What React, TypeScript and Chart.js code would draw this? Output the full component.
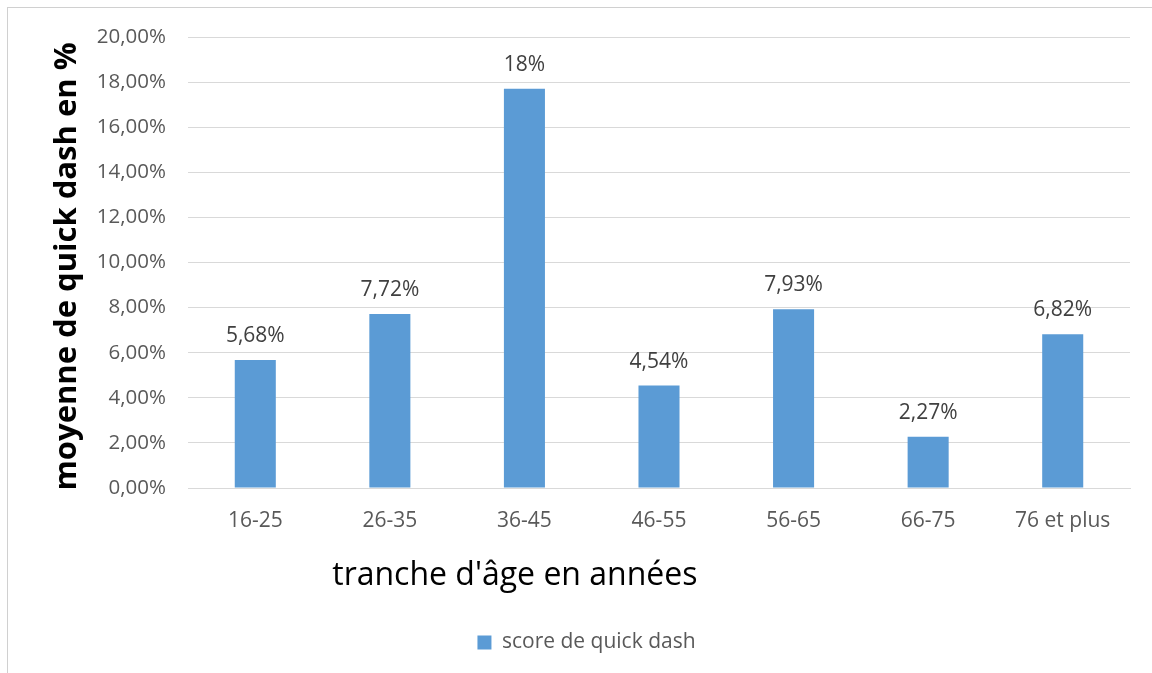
import React, { useEffect, useRef } from "react";
import { Chart, registerables } from "chart.js";

Chart.register(...registerables);

const categories = ["16-25", "26-35", "36-45", "46-55", "56-65", "66-75", "76 et plus"];
const values = [5.68, 7.72, 17.7, 4.54, 7.93, 2.27, 6.82];
const valueLabels = ["5,68%", "7,72%", "18%", "4,54%", "7,93%", "2,27%", "6,82%"];
const seriesName = "score de quick dash";
const yTitle = "moyenne de quick dash en %";
const xTitle = "tranche d'âge en années";

const FONT = "'Open Sans', 'Noto Sans', sans-serif";

const labelsPlugin = {
  id: "valueLabels",
  afterDatasetsDraw(chart: any) {
    const ctx = chart.ctx;
    const meta = chart.getDatasetMeta(0);
    ctx.save();
    ctx.font = `21px ${FONT}`;
    ctx.fillStyle = "#404040";
    ctx.textAlign = "center";
    ctx.textBaseline = "middle";
    meta.data.forEach((bar: any, i: number) => {
      ctx.fillText(valueLabels[i], bar.x, bar.y - 24);
    });
    ctx.restore();
  },
};

const titlesPlugin = {
  id: "axisTitles",
  afterDraw(chart: any) {
    const ctx = chart.ctx;
    const area = chart.chartArea;
    ctx.save();
    ctx.fillStyle = "#000000";
    ctx.textAlign = "center";
    ctx.textBaseline = "middle";
    ctx.font = `bold 31px ${FONT}`;
    ctx.translate(58, (area.top + area.bottom) / 2 + 4);
    ctx.rotate(-Math.PI / 2);
    ctx.fillText(yTitle, 0, 0);
    ctx.restore();
    ctx.save();
    ctx.fillStyle = "#000000";
    ctx.textAlign = "center";
    ctx.textBaseline = "middle";
    ctx.font = `32px ${FONT}`;
    ctx.fillText(xTitle, area.left + area.width * 0.347, area.bottom + 88);
    ctx.restore();
  },
};

export default function App() {
  const ref = useRef<HTMLCanvasElement | null>(null);
  useEffect(() => {
    if (!ref.current) return;
    const chart = new Chart(ref.current, {
      type: "bar",
      data: {
        labels: categories,
        datasets: [
          {
            label: seriesName,
            data: values,
            backgroundColor: "#5b9bd5",
            borderWidth: 0,
            categoryPercentage: 1,
            barPercentage: 0.305,
          },
        ],
      },
      options: {
        animation: false,
        responsive: false,
        maintainAspectRatio: false,
        layout: { padding: { left: 34, right: 24, top: 28, bottom: 12 } },
        plugins: {
          legend: {
            position: "bottom",
            labels: {
              boxWidth: 14,
              boxHeight: 14,
              padding: 10,
              color: "#595959",
              font: { family: FONT, size: 21 },
            },
          },
          tooltip: { enabled: false },
        },
        scales: {
          x: {
            grid: { display: false, drawTicks: false },
            border: { display: true, color: "#d9d9d9", width: 1 },
            ticks: { color: "#595959", font: { family: FONT, size: 21 }, padding: 20, maxRotation: 0 },
            afterFit(s: any) {
              s.height = 134;
            },
          },
          y: {
            min: 0,
            max: 20,
            grid: { color: "#d9d9d9", lineWidth: 1, drawTicks: true, tickLength: 12, tickColor: "rgba(0,0,0,0)" },
            border: { display: false },
            ticks: {
              stepSize: 2,
              color: "#595959",
              font: { family: FONT, size: 20.5 },
              padding: 10,
              callback: (v: any) => Number(v).toFixed(2).replace(".", ",") + "%",
            },
            afterFit(s: any) {
              s.width = 145;
            },
          },
        },
      },
      plugins: [labelsPlugin, titlesPlugin],
    });
    return () => chart.destroy();
  }, []);
  return (
    <div
      style={{
        position: "fixed",
        left: 7,
        top: 7,
        width: 1146,
        height: 667,
        borderTop: "1px solid #d0d0d0",
        borderLeft: "1px solid #d0d0d0",
        boxSizing: "border-box",
        background: "#fff",
        overflow: "hidden",
      }}
    >
      <canvas ref={ref} width={1145} height={666} style={{ display: "block", marginLeft: 1, marginTop: 1 }} />
    </div>
  );
}
